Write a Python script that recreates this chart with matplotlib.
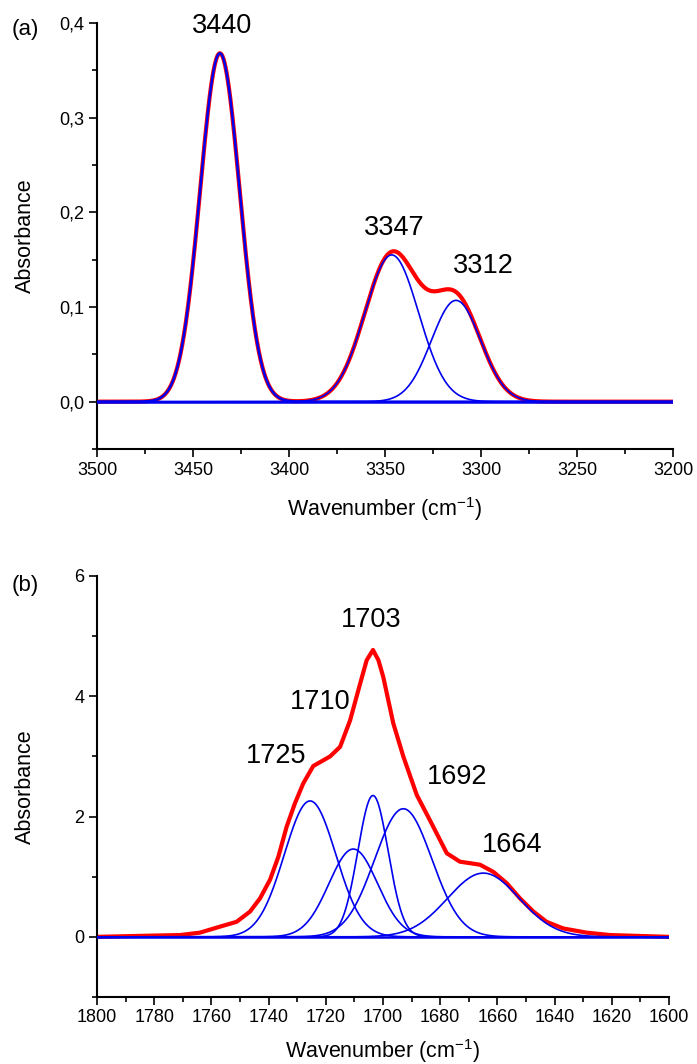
import numpy as np
import matplotlib
matplotlib.use("Agg")
import matplotlib.pyplot as plt
from matplotlib.ticker import MultipleLocator, FuncFormatter

plt.rcParams['font.family'] = ['Liberation Sans', 'DejaVu Sans']
plt.rcParams['mathtext.fontset'] = 'custom'
plt.rcParams['mathtext.rm'] = 'Liberation Sans'
plt.rcParams['mathtext.it'] = 'Liberation Sans'

# --- panel (a): N-H stretching region, fitted Gaussian bands ---
a_centers = [3436.0, 3346.5, 3313.0]
a_heights = [0.368, 0.155, 0.107]
a_sigmas = [10.3, 14.0, 12.8]
a_labels = ["3440", "3347", "3312"]
a_label_x = [3435.0, 3345.0, 3299.0]
a_label_y = [0.397, 0.183, 0.143]

# --- panel (b): carbonyl region, measured envelope + fitted bands ---
b_env_x = [1800, 1781.5, 1771.0, 1764.0, 1757.0, 1751.2, 1746.5, 1743.0, 1739.5,
           1736.6, 1733.7, 1730.8, 1727.9, 1724.4, 1718.5, 1715.0, 1711.5, 1708.0,
           1705.7, 1703.5, 1701.6, 1699.9, 1696.4, 1692.9, 1688.2, 1683.6, 1677.7,
           1673.1, 1666.1, 1661.4, 1656.7, 1652.1, 1647.4, 1642.8, 1637.0, 1628.8,
           1620.6, 1600]
b_env_y = [0.0, 0.02, 0.03, 0.07, 0.17, 0.25, 0.42, 0.64, 0.95,
           1.33, 1.83, 2.22, 2.55, 2.84, 3.00, 3.16, 3.60, 4.21,
           4.60, 4.77, 4.60, 4.32, 3.55, 3.00, 2.36, 1.94, 1.39,
           1.25, 1.20, 1.08, 0.89, 0.64, 0.42, 0.25, 0.14, 0.07,
           0.03, 0.0]
b_centers = [1725.5, 1710.4, 1703.5, 1692.9, 1664.9]
b_heights = [2.26, 1.46, 2.35, 2.13, 1.06]
b_sigmas = [9.0, 8.5, 5.3, 10.0, 12.5]
b_labels = ["1725", "1710", "1703", "1692", "1664"]
b_label_x = [1737.5, 1721.9, 1704.2, 1674.0, 1654.9]
b_label_y = [3.0, 3.91, 5.27, 2.66, 1.53]

BLUE = '#0000ee'


def gauss(x, c, h, s):
    return h * np.exp(-0.5 * ((x - c) / s) ** 2)


def draw_components(ax, x, centers, heights, sigmas, lw_first=1.2):
    comps = [gauss(x, c, h, s) for c, h, s in zip(centers, heights, sigmas)]
    for i, y in enumerate(comps):
        ax.plot(x, y, color=BLUE, lw=1.2 if i else lw_first, zorder=3)
    ax.axhline(0, color=BLUE, lw=1.8, zorder=3)
    return comps


def style_axes(ax):
    ax.spines['top'].set_visible(False)
    ax.spines['right'].set_visible(False)
    ax.spines['left'].set_linewidth(1.5)
    ax.spines['bottom'].set_linewidth(1.5)
    ax.tick_params(which='major', direction='out', length=6, width=1.2,
                   labelsize=13, pad=3)
    ax.tick_params(which='minor', direction='out', length=3.6, width=1.2)


fig = plt.figure(figsize=(6.97, 10.64), dpi=100)
W, H = 697.0, 1064.0

# panel (a)
ax1 = fig.add_axes([97 / W, 1 - 449 / H, (673 - 97) / W, (449 - 23) / H])
xa = np.linspace(3500, 3200, 1500)
comps_a = [gauss(xa, c, h, s) for c, h, s in zip(a_centers, a_heights, a_sigmas)]
ax1.plot(xa, np.sum(comps_a, axis=0), color='red', lw=3.0, zorder=2)
draw_components(ax1, xa, a_centers, a_heights, a_sigmas, lw_first=1.8)
ax1.set_xlim(3500, 3200)
ax1.set_ylim(-0.05, 0.4)
ax1.xaxis.set_major_locator(MultipleLocator(50))
ax1.xaxis.set_minor_locator(MultipleLocator(25))
ax1.yaxis.set_major_locator(MultipleLocator(0.1))
ax1.yaxis.set_minor_locator(MultipleLocator(0.05))
ax1.yaxis.set_major_formatter(FuncFormatter(lambda v, p: f"{v:.1f}".replace('.', ',').replace('-0,0', '0,0')))
style_axes(ax1)
ax1.set_ylabel("Absorbance", fontsize=15.5)
ax1.yaxis.set_label_coords(-0.106, 0.5)
ax1.set_xlabel(r"Wavenumber (cm$^{-1}$)", fontsize=15.5)
ax1.xaxis.set_label_coords(0.5, -0.108)
for t, lx, ly in zip(a_labels, a_label_x, a_label_y):
    ax1.text(lx, ly, t, fontsize=19.5, ha='center', va='center', clip_on=False)

# panel (b)
ax2 = fig.add_axes([97 / W, 1 - 997 / H, (669 - 97) / W, (997 - 576) / H])
xb = np.linspace(1800, 1600, 1500)
ax2.plot(b_env_x, b_env_y, color='red', lw=3.0, zorder=2, solid_joinstyle='round')
draw_components(ax2, xb, b_centers, b_heights, b_sigmas)
ax2.set_xlim(1800, 1600)
ax2.set_ylim(-1, 6)
ax2.xaxis.set_major_locator(MultipleLocator(20))
ax2.xaxis.set_minor_locator(MultipleLocator(10))
ax2.yaxis.set_major_locator(MultipleLocator(2))
ax2.yaxis.set_minor_locator(MultipleLocator(1))
style_axes(ax2)
ax2.set_ylabel("Absorbance", fontsize=15.5)
ax2.yaxis.set_label_coords(-0.107, 0.5)
ax2.set_xlabel(r"Wavenumber (cm$^{-1}$)", fontsize=15.5)
ax2.xaxis.set_label_coords(0.5, -0.096)
for t, lx, ly in zip(b_labels, b_label_x, b_label_y):
    ax2.text(lx, ly, t, fontsize=19.5, ha='center', va='center', clip_on=False)

fig.text(25 / W, 1 - 30 / H, "(a)", fontsize=16, ha='center', va='center')
fig.text(25 / W, 1 - 586 / H, "(b)", fontsize=16, ha='center', va='center')

fig.savefig("out.png", dpi=100)
